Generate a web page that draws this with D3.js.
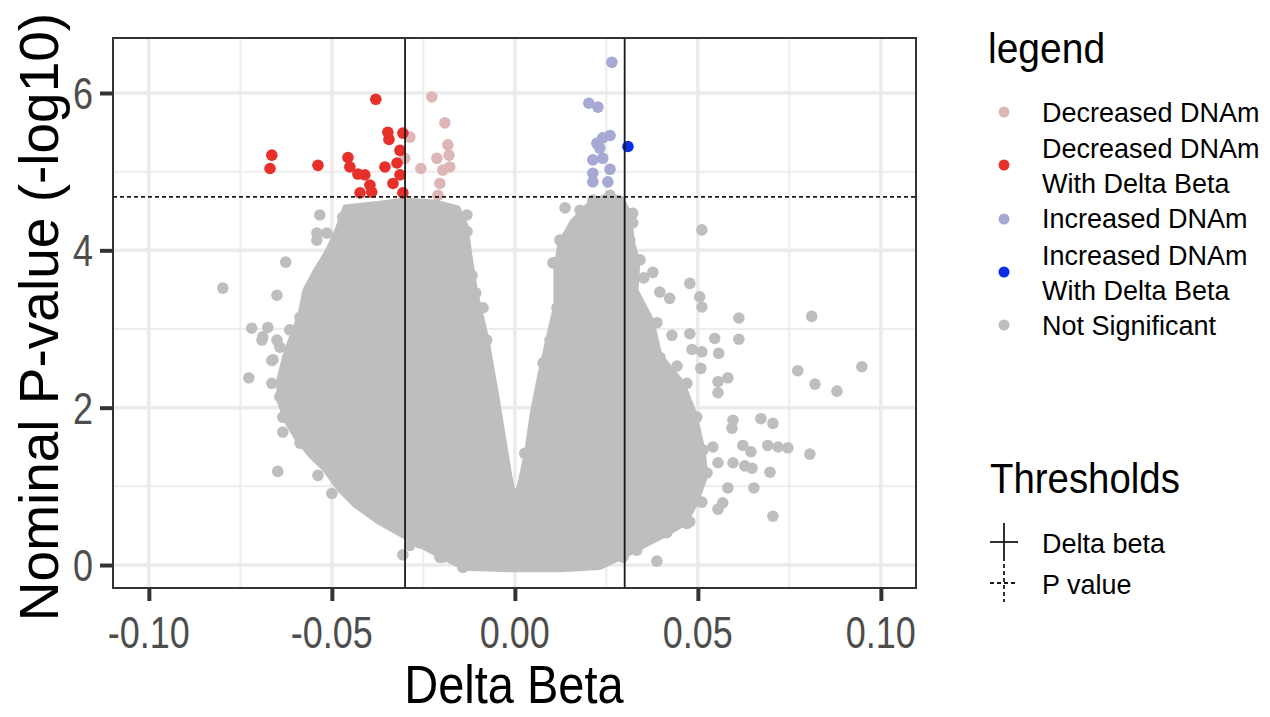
<!DOCTYPE html>
<html lang="en">
<head>
    <meta charset="UTF-8"/>
    <title>Volcano plot</title>
    <script src="https://d3js.org/d3.v7.min.js"></script>
    <style>
        body { margin: 0; background: #fff; }
        text { font-family: "Liberation Sans", Arial, sans-serif; }
    </style>
</head>
<body>
<div id="chart"></div>
<script>
    // --- data: [delta beta, -log10 p] ---

    // outline of the dense grey cloud (thousands of overlapping points)
    const cloudOutline = [
        [-0.0464, 4.55], [-0.0369, 4.60], [-0.0301, 4.64], [-0.0213, 4.61], [-0.0156, 4.54],
        [-0.0134, 4.32], [-0.0123, 3.94], [-0.0107, 3.47], [-0.0077, 2.88], [-0.0052, 2.22],
        [-0.0030, 1.59], [-0.0014, 1.14], [0.0000, 0.79], [0.0016, 1.08], [0.0033, 1.46],
        [0.0049, 1.97], [0.0068, 2.41], [0.0090, 2.86], [0.0112, 3.30], [0.0112, 3.75],
        [0.0123, 4.09], [0.0156, 4.36], [0.0205, 4.60], [0.0254, 4.70], [0.0292, 4.66],
        [0.0314, 4.45], [0.0320, 4.13], [0.0336, 3.85], [0.0331, 3.49], [0.0374, 3.11],
        [0.0396, 2.67], [0.0459, 2.31], [0.0492, 1.91], [0.0514, 1.46], [0.0522, 1.14],
        [0.0495, 0.79], [0.0464, 0.53], [0.0410, 0.38], [0.0342, 0.22], [0.0292, 0.10],
        [0.0232, -0.03], [0.0123, -0.06], [-0.0014, -0.06], [-0.0137, -0.04], [-0.0219, 0.15],
        [-0.0309, 0.38], [-0.0374, 0.55], [-0.0437, 0.76], [-0.0478, 0.95], [-0.0519, 1.21],
        [-0.0560, 1.40], [-0.0596, 1.61], [-0.0626, 1.84], [-0.0645, 2.10], [-0.0645, 2.35],
        [-0.0628, 2.67], [-0.0609, 2.92], [-0.0587, 3.18], [-0.0574, 3.49], [-0.0544, 3.75],
        [-0.0511, 4.00], [-0.0484, 4.28]
    ];

    // not significant points outside / on the ragged edge of the cloud
    const notSignificant = [
        [-0.0798, 3.52], [-0.0626, 3.85], [-0.0719, 3.01], [-0.0727, 2.38], [-0.0634, 1.69],
        [-0.0648, 1.19], [-0.0538, 1.14], [-0.0500, 0.91], [-0.0650, 3.43], [-0.0675, 3.02],
        [-0.0691, 2.86], [-0.0664, 2.60], [-0.0533, 4.45], [-0.0541, 4.13], [-0.0459, 4.10],
        [-0.0131, 4.45], [-0.0131, 4.24], [-0.0117, 3.68], [-0.0087, 3.27], [-0.0107, 3.46],
        [-0.0306, 0.13], [-0.0287, 0.25], [-0.0197, 0.10], [-0.0350, 0.61],
        [-0.0541, 4.22], [-0.0514, 4.22], [-0.0505, 3.97], [-0.0552, 3.53], [-0.0587, 3.15],
        [-0.0615, 2.99], [-0.0650, 2.86], [-0.0689, 2.90], [-0.0642, 2.77], [-0.0661, 2.61],
        [-0.0664, 2.31], [-0.0642, 2.14], [-0.0634, 1.88], [-0.0587, 1.55], [-0.0541, 1.37],
        [-0.0497, 1.17], [-0.0470, 1.04], [-0.0423, 0.83], [-0.0361, 0.70], [-0.0333, 0.53],
        [-0.0260, 0.28], [-0.0205, 0.10], [-0.0142, -0.03], [-0.0470, 4.42], [-0.0415, 4.35],
        [-0.0361, 4.36], [-0.0333, 4.54], [-0.0251, 4.55], [-0.0186, 4.30], [-0.0158, 4.35],
        [-0.0077, 2.86], [-0.0068, 2.22],
        [0.0511, 4.26], [0.0322, 4.47], [0.0322, 4.35], [0.0377, 3.72], [0.0352, 3.65],
        [0.0478, 3.58], [0.0423, 3.39], [0.0505, 3.41], [0.0511, 3.28], [0.0396, 3.47],
        [0.0612, 3.14], [0.0811, 3.16], [0.0429, 2.92], [0.0478, 2.94], [0.0546, 2.88],
        [0.0612, 2.87], [0.0484, 2.74], [0.0511, 2.71], [0.0557, 2.69], [0.0443, 2.53],
        [0.0508, 2.50], [0.0773, 2.47], [0.0948, 2.52], [0.0820, 2.30], [0.0880, 2.21],
        [0.0582, 2.38], [0.0555, 2.33], [0.0555, 2.19], [0.0596, 1.84], [0.0672, 1.86],
        [0.0705, 1.80], [0.0593, 1.74], [0.0541, 1.50], [0.0623, 1.52], [0.0645, 1.44],
        [0.0691, 1.52], [0.0719, 1.50], [0.0746, 1.49], [0.0806, 1.41], [0.0555, 1.30],
        [0.0596, 1.30], [0.0628, 1.26], [0.0648, 1.23], [0.0697, 1.18], [0.0582, 0.98],
        [0.0653, 0.98], [0.0511, 0.80], [0.0568, 0.79], [0.0555, 0.71], [0.0705, 0.62],
        [0.0478, 0.55], [0.0388, 0.05], [0.0027, 1.42], [0.0014, 0.93],
        [0.0137, 4.54], [0.0128, 4.10], [0.0109, 3.84], [0.0115, 3.27],
        [0.0123, 4.13], [0.0104, 3.84], [0.0096, 2.86], [0.0077, 2.57], [0.0055, 1.80],
        [0.0041, 1.37], [0.0178, 4.51], [0.0213, 4.64], [0.0260, 4.70], [0.0314, 4.13],
        [0.0342, 3.88], [0.0388, 3.08], [0.0396, 2.64], [0.0470, 2.31], [0.0497, 1.88],
        [0.0514, 1.46], [0.0525, 1.17], [0.0486, 0.79], [0.0470, 0.53], [0.0415, 0.41],
        [0.0333, 0.19], [0.0295, 0.10]
    ];

    const decreased = [
        [-0.0227, 5.95], [-0.0191, 5.62], [-0.0287, 5.44], [-0.0183, 5.34], [-0.0180, 5.21],
        [-0.0213, 5.17], [-0.0301, 5.17], [-0.0178, 5.06], [-0.0197, 5.02], [-0.0257, 5.04],
        [-0.0205, 4.85], [-0.0210, 4.70]
    ];

    const decreasedDelta = [
        [-0.0380, 5.92], [-0.0347, 5.50], [-0.0344, 5.41], [-0.0306, 5.49], [-0.0664, 5.21],
        [-0.0669, 5.04], [-0.0538, 5.08], [-0.0456, 5.18], [-0.0451, 5.06], [-0.0429, 4.97],
        [-0.0410, 4.96], [-0.0396, 4.83], [-0.0391, 4.74], [-0.0423, 4.73], [-0.0355, 5.06],
        [-0.0322, 5.11], [-0.0314, 5.27], [-0.0314, 4.96], [-0.0333, 4.85], [-0.0306, 4.73]
    ];

    const increased = [
        [0.0265, 6.39], [0.0202, 5.87], [0.0227, 5.82], [0.0260, 5.46], [0.0240, 5.43],
        [0.0224, 5.36], [0.0232, 5.30], [0.0213, 5.15], [0.0240, 5.17], [0.0213, 4.98],
        [0.0213, 4.87], [0.0260, 5.03], [0.0254, 4.87]
    ];

    const increasedDelta = [
        [0.0309, 5.32]
    ];

    const deltaThresholds = [-0.03, 0.03];
    const pThreshold = 4.68;

    const xTicks = [-0.10, -0.05, 0.00, 0.05, 0.10];
    const xMinor = [-0.075, -0.025, 0.025, 0.075];
    const yTicks = [0, 2, 4, 6];
    const yMinor = [1, 3, 5];

    const legendLabels = [
        ["Decreased DNAm"],
        ["Decreased DNAm", "With Delta Beta"],
        ["Increased DNAm"],
        ["Increased DNAm", "With Delta Beta"],
        ["Not Significant"]
    ];
    const legendColors = ["#dfb6b6", "#e8302a", "#a7a9d5", "#0a2ee8", "#bebebe"];
    const thresholdLabels = ["Delta beta", "P value"];

    // --- layout ---
    const W = 1270, H = 717;
    const panel = {left: 113, right: 916, top: 38, bottom: 588};
    const R = 5.8;

    const svg = d3.select("#chart")
        .append("svg")
        .attr("width", W)
        .attr("height", H);

    const x = d3.scaleLinear()
        .domain([-0.1098, 0.1096])
        .range([panel.left, panel.right]);

    const y = d3.scaleLinear()
        .domain([-0.292, 6.699])
        .range([panel.bottom, panel.top]);

    // text helper: labels in the picture are a bit taller than wide
    function label(g, px, py, str, size, k, anchor, fill) {
        return g.append("text")
            .attr("transform", "translate(" + px + "," + py + ") scale(1," + k + ")")
            .attr("text-anchor", anchor || "start")
            .style("font-size", size + "px")
            .style("fill", fill || "#000")
            .text(str);
    }

    // grid
    const grid = svg.append("g");
    grid.selectAll(".vminor").data(xMinor).join("line")
        .attr("x1", d => x(d)).attr("x2", d => x(d))
        .attr("y1", panel.top).attr("y2", panel.bottom)
        .attr("stroke", "#ededed").attr("stroke-width", 2);
    grid.selectAll(".hminor").data(yMinor).join("line")
        .attr("y1", d => y(d)).attr("y2", d => y(d))
        .attr("x1", panel.left).attr("x2", panel.right)
        .attr("stroke", "#ededed").attr("stroke-width", 2);
    grid.selectAll(".vmajor").data(xTicks).join("line")
        .attr("x1", d => x(d)).attr("x2", d => x(d))
        .attr("y1", panel.top).attr("y2", panel.bottom)
        .attr("stroke", "#ebebeb").attr("stroke-width", 3.5);
    grid.selectAll(".hmajor").data(yTicks).join("line")
        .attr("y1", d => y(d)).attr("y2", d => y(d))
        .attr("x1", panel.left).attr("x2", panel.right)
        .attr("stroke", "#ebebeb").attr("stroke-width", 3.5);

    const plot = svg.append("g");

    // dense grey cloud
    plot.append("path")
        .datum(cloudOutline)
        .attr("fill", "#bebebe")
        .attr("stroke", "#bebebe")
        .attr("stroke-width", 5)
        .attr("stroke-linejoin", "round")
        .attr("d", d3.line()
            .x(d => x(d[0]))
            .y(d => y(d[1]))
            .curve(d3.curveLinearClosed));

    const groups = [
        {data: notSignificant, color: legendColors[4]},
        {data: decreased, color: legendColors[0]},
        {data: decreasedDelta, color: legendColors[1]},
        {data: increased, color: legendColors[2]},
        {data: increasedDelta, color: legendColors[3]}
    ];
    groups.forEach(function(gr) {
        plot.append("g").selectAll("circle").data(gr.data).join("circle")
            .attr("cx", d => x(d[0]))
            .attr("cy", d => y(d[1]))
            .attr("r", R)
            .attr("fill", gr.color);
    });

    // thresholds
    plot.selectAll(".vth").data(deltaThresholds).join("line")
        .attr("x1", d => x(d)).attr("x2", d => x(d))
        .attr("y1", panel.top).attr("y2", panel.bottom)
        .attr("stroke", "#1a1a1a").attr("stroke-width", 1.8);
    plot.append("line")
        .attr("x1", panel.left).attr("x2", panel.right)
        .attr("y1", y(pThreshold)).attr("y2", y(pThreshold))
        .attr("stroke", "#1a1a1a").attr("stroke-width", 1.8)
        .attr("stroke-dasharray", "4,3");

    // panel border
    svg.append("rect")
        .attr("x", panel.left).attr("y", panel.top)
        .attr("width", panel.right - panel.left)
        .attr("height", panel.bottom - panel.top)
        .attr("fill", "none")
        .attr("stroke", "#333").attr("stroke-width", 2);

    // axes
    const axisX = svg.append("g")
        .attr("transform", "translate(0," + panel.bottom + ")")
        .call(d3.axisBottom(x).tickValues(xTicks).tickSize(13).tickFormat(d => d.toFixed(2)));
    axisX.select(".domain").remove();
    axisX.selectAll("line").attr("stroke", "#333").attr("stroke-width", 4);
    axisX.selectAll("text").remove();
    xTicks.forEach(function(t) {
        label(svg, x(t), 648, t.toFixed(2), 36, 1.22, "middle", "#4d4d4d");
    });

    const axisY = svg.append("g")
        .attr("transform", "translate(" + panel.left + ",0)")
        .call(d3.axisLeft(y).tickValues(yTicks).tickSize(13));
    axisY.select(".domain").remove();
    axisY.selectAll("line").attr("stroke", "#333").attr("stroke-width", 4);
    axisY.selectAll("text").remove();
    yTicks.forEach(function(t) {
        label(svg, 93, y(t) + 16, String(t), 36, 1.22, "end", "#4d4d4d");
    });

    // axis titles
    label(svg, 514, 703, "Delta Beta", 47, 1.13, "middle");
    svg.append("text")
        .attr("transform", "translate(58,317) rotate(-90)")
        .attr("text-anchor", "middle")
        .style("font-size", "55px")
        .text("Nominal P-value (-log10)");

    // legend: point groups
    const leg = svg.append("g");
    label(leg, 988, 63, "legend", 39, 1.1);
    const keyY = [112, 165, 219, 272, 325];
    const lineY = [[122], [158, 193], [228], [265, 300], [335]];
    legendLabels.forEach(function(lines, i) {
        leg.append("circle")
            .attr("cx", 1004).attr("cy", keyY[i]).attr("r", 5.5)
            .attr("fill", legendColors[i]);
        lines.forEach(function(s, j) {
            label(leg, 1042, lineY[i][j], s, 27, 1.05);
        });
    });

    // legend: thresholds
    label(leg, 990, 493, "Thresholds", 38.4, 1.12);
    const thY = [542, 583];
    thresholdLabels.forEach(function(s, i) {
        const dash = i === 0 ? null : "4,3";
        leg.append("line")
            .attr("x1", 990).attr("x2", 1018)
            .attr("y1", thY[i]).attr("y2", thY[i])
            .attr("stroke", "#1a1a1a").attr("stroke-width", 1.8)
            .attr("stroke-dasharray", dash);
        leg.append("line")
            .attr("x1", 1004).attr("x2", 1004)
            .attr("y1", thY[i] - 19).attr("y2", thY[i] + 19)
            .attr("stroke", "#1a1a1a").attr("stroke-width", 1.8)
            .attr("stroke-dasharray", dash);
        label(leg, 1042, thY[i] + 11, s, 27, 1.05);
    });
</script>
</body>
</html>
